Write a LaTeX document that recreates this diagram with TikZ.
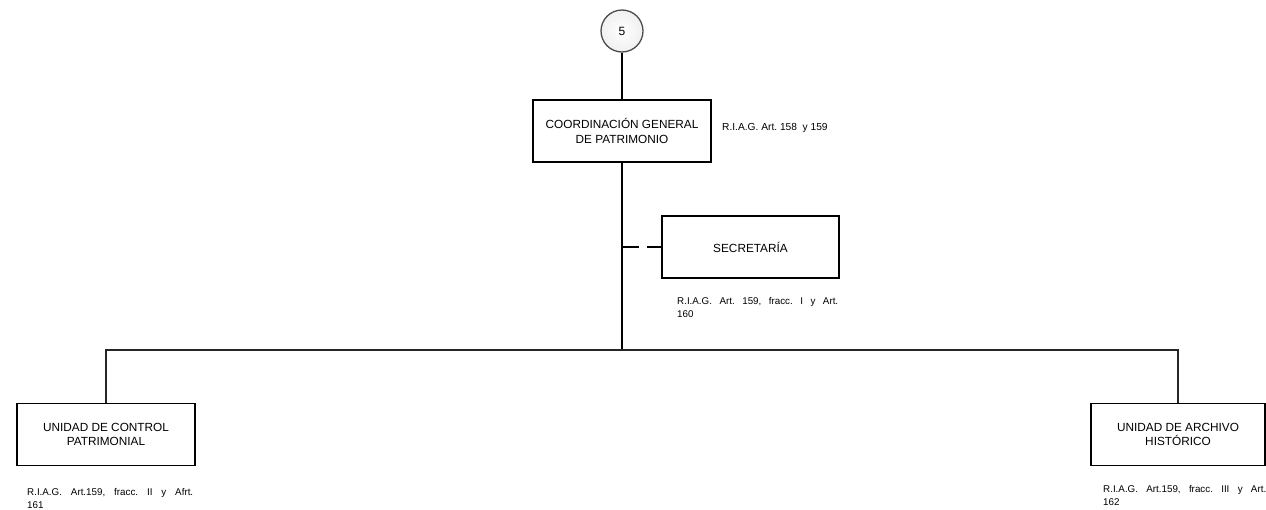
\documentclass[tikz,border=0pt]{standalone}
\usepackage{fontspec}
\setmainfont{Liberation Sans}
\usetikzlibrary{calc}
\frenchspacing
\tikzset{
  orgbox/.style={draw=black, line width=1.5pt, fill=white, minimum width=178pt, minimum height=62pt, inner sep=0pt, align=center, font=\fontsize{11.8}{14.5}\selectfont},
  reflabel/.style={anchor=north west, inner sep=0pt, text width=#1, align=justify, font=\fontsize{9.8}{13.5}\selectfont},
  conn/.style={draw=black, line width=1.6pt},
  bus/.style={draw=black!85, line width=1.6pt},
}
\begin{document}
\begin{tikzpicture}[x=1pt,y=-1pt]
\useasboundingbox (0,0) rectangle (1266,509);
% connector circle
\node[circle, minimum size=42pt, inner sep=0pt, draw=black!70, line width=1.3pt, inner color=white, outer color=black!6, shade, font=\fontsize{12}{12}\selectfont] (c5) at (622,31) {5};
% boxes
\node[orgbox] (cgp) at (622,131) {COORDINACIÓN GENERAL\\DE PATRIMONIO};
\node[anchor=west, inner sep=0pt, font=\fontsize{10.2}{12}\selectfont] (cgplab) at (722,128) {R.I.A.G. Art. 158\ \ y 159};
\node[orgbox, minimum width=177pt] (sec) at (750.5,247) {SECRETARÍA};
\node[reflabel=161pt] (seclab) at (677,297) {R.I.A.G. Art. 159, fracc. I y Art.\linebreak 160};
\node[orgbox] (ucp) at (106,434.5) {UNIDAD DE CONTROL\\PATRIMONIAL};
\node[reflabel=166pt] (ucplab) at (27,488) {R.I.A.G. Art.159, fracc. II y Afrt.\linebreak 161};
\node[orgbox, minimum width=174pt] (uah) at (1178,434.5) {UNIDAD DE ARCHIVO\\HISTÓRICO};
\node[reflabel=163pt] (uahlab) at (1103,485) {R.I.A.G. Art.159, fracc. III y Art.\linebreak 162};
% connectors
\coordinate (busmid) at (cgp.south |- 0,350);
\coordinate (tap) at (cgp.south |- sec.west);
\draw[conn] (c5.south) -- (cgp.north);
\draw[conn] (cgp.south) -- (busmid);
\draw[conn, dash pattern=on 17pt off 8pt] (tap) -- (sec.west);
\draw[bus] (ucp.north) |- (busmid) -| (uah.north);
\end{tikzpicture}
\end{document}
